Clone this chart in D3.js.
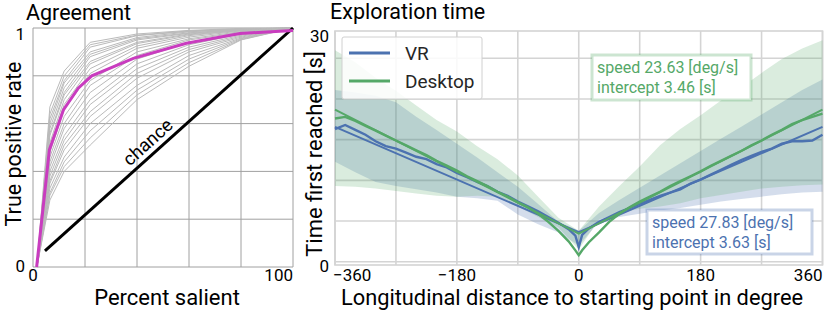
<!DOCTYPE html>
<html>
<head>
<meta charset="utf-8">
<script src="https://cdn.jsdelivr.net/npm/d3@7"></script>
<style>
  body { margin: 0; background: #fff; }
  svg { font-family: Roboto, "DejaVu Sans", sans-serif; }
</style>
</head>
<body>
<div id="chart"></div>
<script>
// ---- left panel data (ROC curves) ----
const rocX = [1.5, 6.5, 12, 22, 40, 60, 80, 100];
const rocSubjects = [
  [0, 0.67, 0.82, 0.94, 0.975, 0.99, 0.998, 1],
  [0, 0.64, 0.80, 0.93, 0.97, 0.988, 0.996, 1],
  [0, 0.62, 0.78, 0.92, 0.968, 0.986, 0.995, 1],
  [0, 0.60, 0.77, 0.90, 0.96, 0.984, 0.995, 1],
  [0, 0.58, 0.75, 0.89, 0.955, 0.98, 0.994, 1],
  [0, 0.56, 0.73, 0.88, 0.95, 0.978, 0.993, 1],
  [0, 0.55, 0.72, 0.86, 0.94, 0.975, 0.992, 1],
  [0, 0.52, 0.70, 0.85, 0.935, 0.972, 0.99, 1],
  [0, 0.50, 0.68, 0.83, 0.925, 0.968, 0.99, 1],
  [0, 0.48, 0.66, 0.81, 0.915, 0.962, 0.988, 1],
  [0, 0.46, 0.63, 0.78, 0.90, 0.955, 0.985, 1],
  [0, 0.44, 0.60, 0.76, 0.885, 0.95, 0.982, 1],
  [0, 0.42, 0.58, 0.73, 0.87, 0.94, 0.978, 1],
  [0, 0.40, 0.55, 0.70, 0.85, 0.93, 0.975, 1],
  [0, 0.38, 0.53, 0.68, 0.83, 0.92, 0.97, 1],
  [0, 0.36, 0.51, 0.65, 0.81, 0.91, 0.966, 1],
  [0, 0.35, 0.49, 0.63, 0.79, 0.90, 0.962, 1],
  [0, 0.33, 0.46, 0.60, 0.76, 0.885, 0.958, 1],
  [0, 0.31, 0.44, 0.57, 0.74, 0.87, 0.955, 1],
  [0, 0.30, 0.42, 0.54, 0.72, 0.855, 0.952, 1],
  [0, 0.28, 0.40, 0.51, 0.70, 0.84, 0.95, 1]
];
const rocMeanX = [1.4, 6.3, 11.7, 17.4, 22.6, 38.6, 59, 79.6, 100];
const rocMeanY = [0, 0.49, 0.657, 0.748, 0.80, 0.873, 0.936, 0.977, 0.99];
const chanceX = [4.6, 100];
const chanceY = [0.067, 1];
const rocGridX = [0, 20, 40, 60, 80, 100];
const rocGridY = [0, 0.2, 0.4, 0.6, 0.8, 1];

// ---- right panel data (exploration time) ----
const degs = [-360, -345, -330, -315, -300, -285, -270, -255, -240, -225, -210, -195, -180, -165, -150, -135,
  -120, -105, -90, -75, -60, -45, -30, -15, -5, 0, 5, 15, 30, 45, 60, 75, 90, 105, 120, 135, 150, 165, 180,
  195, 210, 225, 240, 255, 270, 285, 300, 315, 330, 345, 360];
const vrMean = [16.3, 16.8, 16.2, 15.6, 14.8, 14.2, 13.9, 13.4, 12.9, 12.6, 12.0, 11.6, 10.9, 10.4, 9.8, 9.3,
  8.6, 8.1, 7.4, 6.8, 6.2, 5.5, 4.8, 4.0, 3.2, 1.8, 3.3, 4.1, 4.9, 5.5, 6.1, 6.6, 7.1, 7.6, 8.1, 8.5, 8.9, 9.6, 10.1,
  10.7, 11.3, 11.9, 12.5, 13.0, 13.5, 13.9, 14.5, 14.8, 14.8, 14.9, 15.6];
const desktopMean = [17.6, 17.8, 17.3, 16.7, 16.1, 15.5, 14.9, 14.3, 13.7, 13.1, 12.4, 11.8, 11.2, 10.5, 9.9, 9.3,
  8.6, 8.0, 7.3, 6.7, 5.9, 4.9, 3.8, 2.5, 1.4, 0.8, 1.4, 2.4, 3.6, 4.9, 5.9, 6.7, 7.4, 8.0, 8.6, 9.3, 9.9, 10.5, 11.1,
  11.8, 12.4, 13.0, 13.6, 14.3, 14.9, 15.6, 16.2, 16.9, 17.4, 17.8, 18.2];

const bandDegs = [-360, -330, -300, -270, -240, -210, -180, -150, -120, -90, -60, -30, 0,
  30, 60, 90, 120, 150, 180, 210, 240, 270, 300, 330, 360];
const vrUpper = [21.1, 20.8, 20.4, 19.6, 17.8, 16.2, 14.5, 12.8, 11.0, 9.2, 7.1, 4.9, 3.8,
  6.0, 7.6, 9.1, 10.6, 12.1, 13.6, 15.1, 16.6, 18.1, 19.6, 21.1, 22.4];
const vrLower = [12.3, 11.0, 9.8, 9.3, 8.9, 8.5, 8.0, 7.8, 7.5, 5.8, 4.6, 3.6, 2.0,
  4.9, 5.5, 5.9, 6.3, 6.6, 7.0, 7.4, 7.7, 8.0, 8.3, 8.5, 8.6];
const desktopUpper = [26.0, 24.5, 22.6, 21.0, 19.2, 17.4, 16.0, 14.2, 12.6, 10.6, 8.0, 5.4, 3.8,
  6.8, 9.3, 11.7, 14.3, 16.3, 18.0, 19.8, 21.4, 23.2, 24.9, 26.2, 27.2];
const desktopLower = [9.3, 9.2, 9.0, 8.7, 8.4, 8.1, 8.0, 8.1, 8.0, 6.8, 5.5, 4.2, 1.5,
  5.2, 6.0, 6.5, 6.8, 7.2, 7.8, 8.2, 8.6, 9.0, 9.2, 9.4, 9.5];

const fitSpeed = { VR: 27.83, Desktop: 23.63 };
const fitIntercept = { VR: 3.63, Desktop: 3.46 };
const timeGridX = [-360, -270, -180, -90, 0, 90, 180, 270, 360];
const timeTickX = [-360, -180, 0, 180, 360];
const timeGridY = [0, 5, 10, 15, 20, 25];
const timeTickLabels = ["0", "30"];

const blue = "#4C72B0", green = "#55A868";

const W = 830, H = 314;
const svg = d3.select("#chart").append("svg").attr("width", W).attr("height", H);

// ================= left panel =================
const xL = d3.scaleLinear().domain([0, 100]).range([33, 293]);
const yL = d3.scaleLinear().domain([0, 1]).range([267, 28]);
const left = svg.append("g");

left.selectAll(".gx").data(rocGridX).enter().append("line")
  .attr("x1", d => xL(d)).attr("x2", d => xL(d))
  .attr("y1", yL(0)).attr("y2", yL(1))
  .attr("stroke", "#a0a0a0").attr("stroke-width", 1);
left.selectAll(".gy").data(rocGridY).enter().append("line")
  .attr("y1", d => yL(d)).attr("y2", d => yL(d))
  .attr("x1", xL(0)).attr("x2", xL(100))
  .attr("stroke", "#a0a0a0").attr("stroke-width", 1);

const rocLine = d3.line().x(d => xL(d[0])).y(d => yL(d[1]));
left.selectAll(".subj").data(rocSubjects).enter().append("path")
  .attr("d", ys => rocLine(ys.map((v, i) => [rocX[i], v])))
  .attr("fill", "none").attr("stroke", "#bababa").attr("stroke-width", 1);

left.append("path")
  .attr("d", rocLine(chanceX.map((v, i) => [v, chanceY[i]])))
  .attr("stroke", "#000").attr("stroke-width", 3).attr("fill", "none");

left.append("path")
  .attr("d", rocLine(rocMeanX.map((v, i) => [v, rocMeanY[i]])))
  .attr("stroke", "#c93cbf").attr("stroke-width", 3).attr("fill", "none");

// label along chance line
const cpx = 47.3;
const cpy = chanceY[0] + (cpx - chanceX[0]) * (chanceY[1] - chanceY[0]) / (chanceX[1] - chanceX[0]);
const ang = Math.atan2(yL(chanceY[1]) - yL(chanceY[0]), xL(chanceX[1]) - xL(chanceX[0])) * 180 / Math.PI;
left.append("text").attr("transform", `translate(${xL(cpx)},${yL(cpy)}) rotate(${ang})`)
  .attr("y", -6).attr("text-anchor", "middle").attr("font-size", 18.5).attr("fill", "#000").text("chance");

left.append("text").attr("x", 26).attr("y", 20).attr("font-size", 21.5).text("Agreement");
left.append("text").attr("x", 25).attr("y", 40).attr("text-anchor", "end").attr("font-size", 17).text("1");
left.append("text").attr("x", 25).attr("y", 272).attr("text-anchor", "end").attr("font-size", 17).text("0");
left.append("text").attr("x", xL(0)).attr("y", 281).attr("text-anchor", "middle").attr("font-size", 17).text("0");
left.append("text").attr("x", xL(100)).attr("y", 281).attr("text-anchor", "end").attr("font-size", 17).text("100");
left.append("text").attr("x", 167).attr("y", 305).attr("text-anchor", "middle").attr("font-size", 22).text("Percent salient");
left.append("text").attr("transform", "translate(21,144) rotate(-90)")
  .attr("text-anchor", "middle").attr("font-size", 21.5).text("True positive rate");

// ================= right panel =================
const xR = d3.scaleLinear().domain([-360, 360]).range([335, 822.5]);
const yR = d3.scaleLinear().domain([-0.4, 28.35]).range([265, 31]);
const right = svg.append("g");

right.selectAll(".gx").data(timeGridX).enter().append("line")
  .attr("x1", d => xR(d)).attr("x2", d => xR(d))
  .attr("y1", yR.range()[0]).attr("y2", yR.range()[1])
  .attr("stroke", "#d4d4d4").attr("stroke-width", 1.6);
right.selectAll(".gy").data(timeGridY).enter().append("line")
  .attr("y1", d => yR(d)).attr("y2", d => yR(d))
  .attr("x1", xR(-360)).attr("x2", xR(360))
  .attr("stroke", "#d4d4d4").attr("stroke-width", 1.6);
right.append("rect").attr("x", xR(-360)).attr("y", yR.range()[1])
  .attr("width", xR(360) - xR(-360)).attr("height", yR.range()[0] - yR.range()[1])
  .attr("fill", "none").attr("stroke", "#d4d4d4").attr("stroke-width", 1.6);

const band = d3.area().x(d => xR(d[0])).y0(d => yR(d[1])).y1(d => yR(d[2]));
right.append("path")
  .attr("d", band(bandDegs.map((d, i) => [d, vrLower[i], vrUpper[i]])))
  .attr("fill", blue).attr("fill-opacity", 0.24);
right.append("path")
  .attr("d", band(bandDegs.map((d, i) => [d, desktopLower[i], desktopUpper[i]])))
  .attr("fill", green).attr("fill-opacity", 0.22);

const tLine = d3.line().x(d => xR(d[0])).y(d => yR(d[1]));
function fitPts(k) {
  return [-360, 0, 360].map(d => [d, fitIntercept[k] + Math.abs(d) / fitSpeed[k]]);
}
right.append("path").attr("d", tLine(degs.map((d, i) => [d, vrMean[i]])))
  .attr("fill", "none").attr("stroke", blue).attr("stroke-width", 2.4);
right.append("path").attr("d", tLine(fitPts("VR")))
  .attr("fill", "none").attr("stroke", blue).attr("stroke-width", 2);
right.append("path").attr("d", tLine(degs.map((d, i) => [d, desktopMean[i]])))
  .attr("fill", "none").attr("stroke", green).attr("stroke-width", 2.4);
right.append("path").attr("d", tLine(fitPts("Desktop")))
  .attr("fill", "none").attr("stroke", green).attr("stroke-width", 2);

// axes labels
right.selectAll(".xt").data(timeTickX).enter().append("text")
  .attr("x", d => xR(d) + (d === -360 ? -2 : 0))
  .attr("y", 281)
  .attr("text-anchor", d => d === -360 ? "start" : d === 360 ? "end" : "middle")
  .attr("font-size", 17)
  .text(d => d < 0 ? "\u2212" + Math.abs(d) : d);
right.selectAll(".yt").data(yR.domain()).enter().append("text")
  .attr("x", 329)
  .attr("y", (d, i) => i === 0 ? 272 : 42)
  .attr("text-anchor", "end").attr("font-size", 17)
  .text((d, i) => timeTickLabels[i]);

right.append("text").attr("x", 330).attr("y", 19).attr("font-size", 21.5).text("Exploration time");
right.append("text").attr("x", 572).attr("y", 305).attr("text-anchor", "middle").attr("font-size", 21.8)
  .text("Longitudinal distance to starting point in degree");
right.append("text").attr("transform", "translate(322,154) rotate(-90)")
  .attr("text-anchor", "middle").attr("font-size", 22).text("Time first reached [s]");

// legend
const lg = right.append("g");
lg.append("rect").attr("x", 342).attr("y", 37).attr("width", 140).attr("height", 62).attr("rx", 2)
  .attr("fill", "#fff").attr("fill-opacity", 0.85).attr("stroke", "#d0d0d0").attr("stroke-width", 1);
[["VR", blue, 53], ["Desktop", green, 81]].forEach(function (s) {
  lg.append("line").attr("x1", 349).attr("x2", 390).attr("y1", s[2]).attr("y2", s[2])
    .attr("stroke", s[1]).attr("stroke-width", 3);
  lg.append("text").attr("x", 405).attr("y", s[2] + 7).attr("font-size", 19).attr("fill", "#262626").text(s[0]);
});

// fit annotations
function note(x, y, w, h, col, k) {
  const g = right.append("g");
  g.append("rect").attr("x", x).attr("y", y).attr("width", w).attr("height", h)
    .attr("fill", "#fff").attr("stroke", col).attr("stroke-opacity", 0.3).attr("stroke-width", 3);
  g.append("text").attr("x", x + 5).attr("y", y + 18).attr("font-size", 16).attr("fill", col)
    .text("speed " + fitSpeed[k].toFixed(2) + " [deg/s]");
  g.append("text").attr("x", x + 5).attr("y", y + 37.5).attr("font-size", 16).attr("fill", col)
    .text("intercept " + fitIntercept[k].toFixed(2) + " [s]");
}
note(592, 55, 159, 45, green, "Desktop");
note(647, 210, 165, 44, blue, "VR");
</script>
</body>
</html>
